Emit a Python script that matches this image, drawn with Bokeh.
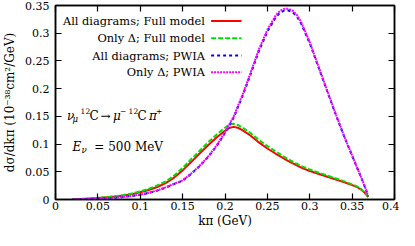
import math
from bokeh.plotting import figure
from bokeh.models import (Label, Arrow, LinearAxis, FixedTicker, NumeralTickFormatter, Range1d,
                          CustomLabelingPolicy)
from bokeh.embed import file_html
from bokeh.resources import INLINE

# ---------------- data ----------------
k_full = [0.020, 0.030, 0.040, 0.050, 0.060, 0.070, 0.080, 0.090, 0.100, 0.110,
          0.120, 0.130, 0.140, 0.150, 0.160, 0.170, 0.180, 0.190, 0.200, 0.205,
          0.210, 0.215, 0.220, 0.230, 0.240, 0.250, 0.260, 0.270, 0.280, 0.290,
          0.300, 0.310, 0.320, 0.330, 0.340, 0.350, 0.355, 0.360, 0.365, 0.369]
all_full = [0.0000, 0.0009, 0.0017, 0.0027, 0.0039, 0.0053, 0.0072, 0.0097, 0.0130, 0.0172,
            0.0225, 0.0295, 0.0395, 0.0525, 0.0675, 0.0830, 0.0980, 0.1120, 0.1240, 0.1290,
            0.1310, 0.1295, 0.1255, 0.1155, 0.1030, 0.0920, 0.0825, 0.0735, 0.0650, 0.0575,
            0.0515, 0.0465, 0.0415, 0.0365, 0.0315, 0.0260, 0.0230, 0.0185, 0.0120, 0.0045]
delta_full = [0.0000, 0.0010, 0.0019, 0.0030, 0.0043, 0.0059, 0.0080, 0.0108, 0.0145, 0.0193,
              0.0253, 0.0325, 0.0432, 0.0570, 0.0725, 0.0878, 0.1030, 0.1170, 0.1295, 0.1355,
              0.1365, 0.1345, 0.1305, 0.1200, 0.1075, 0.0965, 0.0865, 0.0770, 0.0682, 0.0603,
              0.0540, 0.0488, 0.0436, 0.0384, 0.0331, 0.0273, 0.0241, 0.0195, 0.0127, 0.0048]

k_pwia = [0.020, 0.030, 0.040, 0.050, 0.060, 0.070, 0.080, 0.090, 0.100, 0.110,
          0.120, 0.130, 0.140, 0.150, 0.160, 0.170, 0.180, 0.190, 0.200, 0.210,
          0.220, 0.230, 0.240, 0.250, 0.260, 0.265, 0.270, 0.275, 0.280, 0.285,
          0.290, 0.300, 0.310, 0.320, 0.330, 0.340, 0.350, 0.360, 0.365, 0.369]
all_pwia = [0.0000, 0.0004, 0.0009, 0.0015, 0.0023, 0.0033, 0.0046, 0.0063, 0.0086, 0.0118,
            0.0160, 0.0215, 0.0280, 0.0340, 0.0460, 0.0600, 0.0765, 0.0960, 0.1200, 0.1470,
            0.1840, 0.2250, 0.2680, 0.3030, 0.3290, 0.3370, 0.3410, 0.3410, 0.3375, 0.3300,
            0.3170, 0.2820, 0.2400, 0.1980, 0.1560, 0.1160, 0.0790, 0.0420, 0.0230, 0.0060]
delta_pwia = [0.0000, 0.0004, 0.0009, 0.0016, 0.0024, 0.0034, 0.0047, 0.0065, 0.0088, 0.0121,
              0.0163, 0.0219, 0.0285, 0.0346, 0.0467, 0.0608, 0.0775, 0.0972, 0.1215, 0.1490,
              0.1865, 0.2280, 0.2710, 0.3065, 0.3325, 0.3405, 0.3440, 0.3440, 0.3405, 0.3325,
              0.3195, 0.2840, 0.2415, 0.1990, 0.1570, 0.1165, 0.0795, 0.0425, 0.0232, 0.0061]

legend_labels = ["All diagrams; Full model", "Only \u0394; Full model",
                 "All diagrams; PWIA", "Only \u0394; PWIA"]
x_ticks = [0, 0.05, 0.1, 0.15, 0.2, 0.25, 0.3, 0.35, 0.4]
y_ticks = [0, 0.05, 0.1, 0.15, 0.2, 0.25, 0.3, 0.35]
x_title = "k\u03c0 (GeV)"
y_title = "d\u03c3/dk\u03c0 (10\u207b\u00b3\u2078cm\u00b2/GeV)"

# ---------------- styling ----------------
FONT = "DejaVu Serif"
colors = ["#ff0000", "#00e000", "#0000ff", "#ff00ff"]
dashes = ["solid", "5 2", "3 3", "2 1"]

p = figure(width=399, height=230, output_backend="svg", toolbar_location=None, title=None,
           x_range=Range1d(0, 0.4), y_range=Range1d(0, 0.35),
           min_border_left=53, min_border_right=4, min_border_top=5, min_border_bottom=0)
p.background_fill_color = "white"
p.border_fill_color = "white"
p.outline_line_color = "black"
p.outline_line_width = 1.5
p.xgrid.visible = False
p.ygrid.visible = False

for ax, ticks in ((p.xaxis[0], x_ticks), (p.yaxis[0], y_ticks)):
    ax.ticker = FixedTicker(ticks=ticks)
    ax.formatter = NumeralTickFormatter(format="0.[00]")
    ax.major_tick_in = 6
    ax.major_tick_out = 0
    ax.minor_tick_line_color = None
    ax.axis_line_width = 1.5
    ax.axis_line_color = "black"
    ax.major_tick_line_color = "black"
    ax.major_tick_line_width = 1.2
    ax.major_label_text_font = FONT
    ax.major_label_text_font_size = "11px"
    ax.major_label_text_color = "black"
    ax.axis_label_text_font = FONT
    ax.axis_label_text_font_size = "12px"
    ax.axis_label_text_font_style = "normal"
    ax.axis_label_text_color = "black"
p.xaxis[0].major_label_standoff = 2
p.xaxis[0].axis_label = x_title
p.xaxis[0].axis_label_standoff = 1
p.yaxis[0].major_label_standoff = 6
p.yaxis[0].axis_label = y_title
p.yaxis[0].axis_label_standoff = 5

for loc, ticks in (("above", x_ticks), ("right", y_ticks)):
    ax = LinearAxis()
    ax.ticker = FixedTicker(ticks=ticks)
    ax.major_tick_in = 6
    ax.major_tick_out = 0
    ax.minor_tick_line_color = None
    ax.major_label_policy = CustomLabelingPolicy(code="return new Set()")
    ax.major_label_text_font_size = "1px"
    ax.major_label_standoff = 0
    ax.axis_line_width = 1.5
    ax.major_tick_line_width = 1.2
    p.add_layout(ax, loc)

series = [(k_full, all_full), (k_full, delta_full), (k_pwia, all_pwia), (k_pwia, delta_pwia)]
for (xs, ys), c, d in zip(series, colors, dashes):
    p.line(xs, ys, line_color=c, line_width=2, line_dash=d)

# ---------------- legend (text right-aligned, sample to its right) ----------------
leg_y = [0.3222, 0.2908, 0.2596, 0.2294]
for lab, yy, c, d in zip(legend_labels, leg_y, colors, dashes):
    p.add_layout(Label(x=0.1763, y=yy, text=lab, text_align="right", text_baseline="middle",
                       text_font=FONT, text_font_size="11.4px", text_color="black"))
    p.add_layout(Arrow(x_start=0.1836, y_start=yy, x_end=0.2195, y_end=yy, end=None,
                       line_color=c, line_width=2, line_dash=d))

def put(pieces, x0, y0):
    for txt, dx, dy, size, style in pieces:
        p.add_layout(Label(x=x0, y=y0, x_offset=dx, y_offset=dy, text=txt,
                           text_align="left", text_baseline="alphabetic",
                           text_font=FONT, text_font_size=size, text_font_style=style,
                           text_color="black"))

# reaction: nu_mu 12C -> mu- 12C pi+
put([("\u03bd", 0, 0, "12px", "italic"),
     ("\u03bc", 5.5, -3, "8.5px", "italic"),
     ("12", 13.5, 5, "7.5px", "normal"),
     ("C", 22.3, 0, "12px", "normal"),
     ("\u2192", 33.5, 0, "12px", "normal"),
     ("\u03bc", 46.0, 0, "12px", "italic"),
     ("\u2212", 53.0, 5, "7.5px", "normal"),
     ("12", 61.5, 5, "7.5px", "normal"),
     ("C", 70.3, 0, "12px", "normal"),
     ("\u03c0", 82.0, 0, "12px", "italic"),
     ("+", 89.0, 5, "7.5px", "normal")], 0.0137, 0.150)

# energy: E_nu = 500 MeV
put([("E", 0, 0, "12px", "italic"),
     ("\u03bd", 8.8, -3, "8.5px", "italic"),
     ("= 500 MeV", 21.7, 0, "12px", "normal")], 0.0202, 0.0951)

open("out.html", "w").write(file_html(p, INLINE))
